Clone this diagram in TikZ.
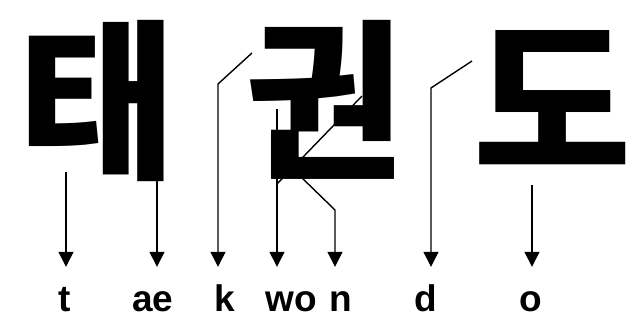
\documentclass[tikz,border=0pt]{standalone}
\usepackage{fontspec}
\setmainfont{Liberation Sans}
\newfontfamily\korean{Noto Sans CJK KR}
\usetikzlibrary{arrows.meta}

\begin{document}
\begin{tikzpicture}
    [x=1pt,y=1pt,
     hangul/.style={font=\korean\bfseries\fontsize{172}{172}\selectfont, inner sep=0pt, text height=143pt, text depth=12pt, anchor=base},
     roman/.style={font=\bfseries\fontsize{37}{37}\selectfont, inner sep=0pt, text height=27pt, text depth=0pt, anchor=base},
     line/.style={line width=1.4pt},
     conn/.style={line, -{Triangle[length=15pt,width=15pt]}, shorten >=18pt}]
    \useasboundingbox (0,0) rectangle (633,320);
    %characters
    \node[hangul] (tae) at (98,154) {태};
    \node[hangul] (kwon) at (325,154) {권};
    \node[hangul] (do) at (553,154) {도};
    %romanization
    \node[roman] (t) at (65,8) {t};
    \node[roman] (ae) at (153,8) {ae};
    \node[roman] (k) at (225,8) {k};
    \node[roman] (wo) at (291,8) {wo};
    \node[roman] (n) at (341,8) {n};
    \node[roman] (d) at (426,8) {d};
    \node[roman] (o) at (531,8) {o};
    %points on the strokes
    \coordinate (tstart) at (66,148);
    \coordinate (aestart) at (157,145);
    \coordinate (kstart) at (252,267);
    \coordinate (kbend) at (218,236);
    \coordinate (wotop) at (277,211);
    \coordinate (woright) at (362,224);
    \coordinate (wojoin) at (277,136);
    \coordinate (nstart) at (300,144);
    \coordinate (nbend) at (335,110);
    \coordinate (dstart) at (472,259);
    \coordinate (dbend) at (431,232);
    \coordinate (ostart) at (532,135);
    %arrows
    \draw[conn] (tstart) -- (tstart |- t.north);
    \draw[conn] (aestart) -- (aestart |- ae.north);
    \draw[conn] (kstart) -- (kbend) -- (kbend |- k.north);
    \draw[conn] (wotop) -- (wotop |- wo.north);
    \draw[line] (woright) -- (wojoin);
    \draw[conn] (nstart) -- (nbend) -- (nbend |- n.north);
    \draw[conn] (dstart) -- (dbend) -- (dbend |- d.north);
    \draw[conn] (ostart) -- (ostart |- o.north);
\end{tikzpicture}
\end{document}
